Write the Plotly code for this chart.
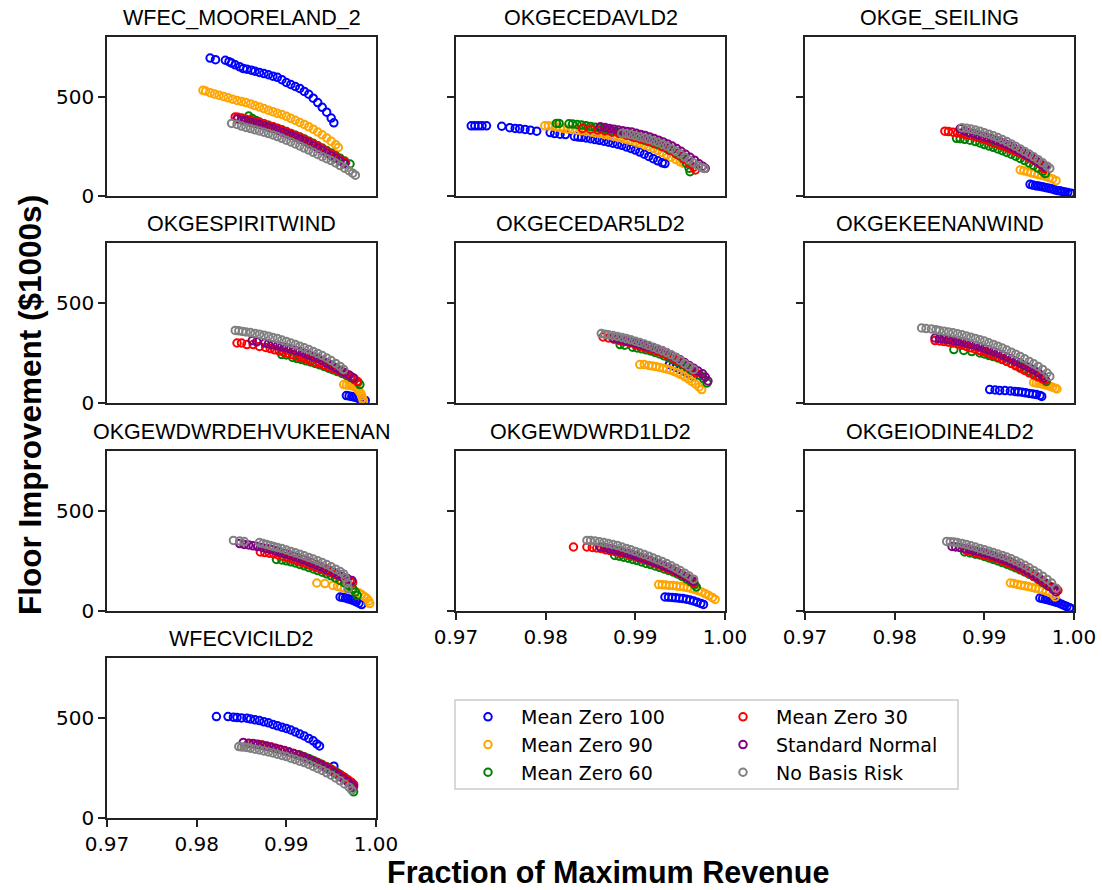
import plotly.graph_objects as go

# ---------------- axes / labels ----------------
X_RANGE = [0.97, 1.00]
Y_RANGE = [0, 800]
X_TICKS = [0.97, 0.98, 0.99, 1.00]
Y_TICKS = [0, 500]
X_LABEL = "Fraction of Maximum Revenue"
Y_LABEL = "Floor Improvement ($1000s)"

SERIES_NAMES = ["Mean Zero 100", "Mean Zero 90", "Mean Zero 60",
                "Mean Zero 30", "Standard Normal", "No Basis Risk"]
SERIES_COLORS = ["blue", "orange", "green", "red", "purple", "gray"]
LEGEND_COLUMN = ["legend", "legend", "legend", "legend2", "legend2", "legend2"]

STATIONS = ["WFEC_MOORELAND_2", "OKGECEDAVLD2", "OKGE_SEILING",
            "OKGESPIRITWIND", "OKGECEDAR5LD2", "OKGEKEENANWIND",
            "OKGEWDWRDEHVUKEENAN", "OKGEWDWRD1LD2", "OKGEIODINE4LD2",
            "WFECVICILD2"]

# ---------------- WFEC_MOORELAND_2 ----------------
MOOR_B100_X = [0.9815,0.9821,0.9832,0.9836,0.9839,0.9843,0.9848,0.9852,0.9856,0.9861,0.9865,0.9870,0.9875,0.9880,0.9885,0.9890,0.9895,0.9900,0.9905,0.9910,0.9915,0.9920,0.9925,0.9930,0.9935,0.9940,0.9945,0.9950,0.9953]
MOOR_B100_Y = [694,686,683,676,669,660,650,641,638,633,628,622,616,610,603,597,585,571,561,551,541,526,512,492,470,446,422,392,368]
MOOR_O90_X = [0.9807,0.9810,0.9815,0.9820,0.9825,0.9830,0.9835,0.9840,0.9845,0.9850,0.9855,0.9860,0.9865,0.9870,0.9875,0.9880,0.9885,0.9890,0.9895,0.9900,0.9905,0.9910,0.9915,0.9920,0.9925,0.9930,0.9935,0.9940,0.9945,0.9950,0.9955,0.9958]
MOOR_O90_Y = [532,528,520,513,507,501,494,487,481,476,470,463,455,448,440,432,424,416,410,401,391,381,370,360,348,336,322,308,292,276,258,244]
MOOR_G60_X = [0.9858,0.9862,0.9866,0.9870,0.9875,0.9880,0.9885,0.9890,0.9895,0.9900,0.9905,0.9910,0.9915,0.9920,0.9925,0.9930,0.9935,0.9940,0.9945,0.9950,0.9955,0.9960,0.9965,0.9971]
MOOR_G60_Y = [402,390,380,372,364,356,349,341,333,324,315,306,297,287,276,265,253,241,229,216,203,190,176,161]
MOOR_R30_X = [0.9843,0.9846,0.9850,0.9855,0.9860,0.9865,0.9870,0.9875,0.9880,0.9885,0.9890,0.9895,0.9900,0.9905,0.9910,0.9915,0.9920,0.9925,0.9930,0.9935,0.9940,0.9945,0.9950,0.9955,0.9960,0.9966]
MOOR_R30_Y = [398,396,392,386,380,374,368,362,355,348,340,331,322,314,305,295,285,274,262,250,238,225,212,198,185,168]
MOOR_SN_X = [0.9845,0.9850,0.9855,0.9860,0.9865,0.9870,0.9875,0.9880,0.9885,0.9890,0.9895,0.9900,0.9905,0.9910,0.9915,0.9920,0.9925,0.9930,0.9935,0.9940,0.9945,0.9950,0.9955,0.9960,0.9965]
MOOR_SN_Y = [388,383,378,372,366,360,353,346,339,331,322,313,305,296,286,276,265,253,241,229,216,203,190,176,162]
MOOR_NBR_X = [0.9839,0.9845,0.9850,0.9855,0.9860,0.9865,0.9870,0.9875,0.9880,0.9885,0.9890,0.9895,0.9900,0.9905,0.9910,0.9915,0.9920,0.9925,0.9930,0.9935,0.9940,0.9945,0.9950,0.9955,0.9960,0.9965,0.9970,0.9974,0.9977]
MOOR_NBR_Y = [365,360,352,345,339,333,327,321,314,307,299,290,281,272,262,252,241,231,220,209,198,188,178,166,153,140,127,115,105]

# ---------------- OKGECEDAVLD2 ----------------
CEDAV_B100_X = [0.9717,0.9721,0.9725,0.9729,0.9734,0.9751,0.9760,0.9766,0.9771,0.9777,0.9783,0.9790,0.9805,0.9810,0.9816,0.9822,0.9832,0.9836,0.9840,0.9845,0.9850,0.9855,0.9860,0.9865,0.9870,0.9875,0.9880,0.9885,0.9890,0.9895,0.9900,0.9905,0.9910,0.9915,0.9920,0.9925,0.9930,0.9933]
CEDAV_B100_Y = [353,353,353,353,353,351,344,340,338,335,331,326,319,314,311,309,300,297,295,292,288,284,280,276,271,266,261,255,247,239,231,221,210,199,188,177,167,163]
CEDAV_O90_X = [0.9799,0.9803,0.9808,0.9812,0.9816,0.9820,0.9825,0.9830,0.9835,0.9840,0.9845,0.9850,0.9855,0.9860,0.9865,0.9870,0.9875,0.9880,0.9885,0.9890,0.9895,0.9900,0.9905,0.9910,0.9915,0.9920,0.9925,0.9930,0.9935,0.9940,0.9945,0.9950,0.9954]
CEDAV_O90_Y = [353,353,352,348,344,340,337,334,331,328,325,322,318,314,310,306,301,296,291,285,279,272,265,257,249,240,230,219,207,195,184,172,164]
CEDAV_G60_X = [0.9812,0.9815,0.9826,0.9830,0.9835,0.9840,0.9845,0.9850,0.9855,0.9860,0.9865,0.9870,0.9875,0.9880,0.9885,0.9890,0.9895,0.9900,0.9905,0.9910,0.9915,0.9920,0.9925,0.9930,0.9935,0.9940,0.9945,0.9950,0.9954,0.9957,0.9960,0.9961]
CEDAV_G60_Y = [365,365,363,362,360,357,354,350,346,341,336,331,326,321,315,309,302,295,288,281,274,266,258,249,239,228,215,200,185,165,140,122]
CEDAV_R30_X = [0.9841,0.9850,0.9858,0.9866,0.9874,0.9882,0.9890,0.9898,0.9906,0.9914,0.9922,0.9930,0.9938,0.9946,0.9954,0.9960,0.9965,0.9967]
CEDAV_R30_Y = [340,336,332,327,321,315,306,296,287,276,263,248,230,210,187,165,145,131]
CEDAV_SN_X = [0.9861,0.9866,0.9871,0.9876,0.9881,0.9886,0.9891,0.9896,0.9901,0.9906,0.9911,0.9916,0.9921,0.9926,0.9931,0.9936,0.9941,0.9946,0.9951,0.9956,0.9961,0.9966,0.9971,0.9975,0.9978]
CEDAV_SN_Y = [348,345,340,336,332,328,325,322,316,310,304,297,289,281,272,262,251,239,225,210,195,180,162,150,139]
CEDAV_NBR_X = [0.9885,0.9890,0.9895,0.9900,0.9905,0.9910,0.9915,0.9920,0.9925,0.9930,0.9935,0.9940,0.9945,0.9950,0.9955,0.9960,0.9965,0.9970,0.9974,0.9977]
CEDAV_NBR_Y = [315,313,309,303,297,292,285,278,270,261,251,238,226,212,196,181,166,152,143,138]

# ---------------- OKGE_SEILING ----------------
SEIL_B100_X = [0.9951,0.9954,0.9957,0.9960,0.9963,0.9966,0.9969,0.9972,0.9975,0.9978,0.9981,0.9984,0.9987,0.9990,0.9993,0.9996,0.9998]
SEIL_B100_Y = [59,55,52,50,48,45,42,39,36,32,28,26,23,20,17,14,12]
SEIL_O90_X = [0.9940,0.9944,0.9948,0.9952,0.9956,0.9960,0.9964,0.9968,0.9972,0.9976,0.9980]
SEIL_O90_Y = [131,127,122,117,113,108,104,99,93,86,77]
SEIL_G60_X = [0.9869,0.9873,0.9878,0.9884,0.9890,0.9895,0.9900,0.9905,0.9910,0.9915,0.9920,0.9925,0.9930,0.9935,0.9940,0.9945,0.9950,0.9955,0.9960,0.9965,0.9968]
SEIL_G60_Y = [290,288,285,281,274,267,259,252,245,237,228,219,210,200,189,178,166,154,140,124,113]
SEIL_R30_X = [0.9856,0.9860,0.9865,0.9870,0.9875,0.9880,0.9885,0.9890,0.9895,0.9900,0.9905,0.9910,0.9915,0.9920,0.9925,0.9930,0.9935,0.9940,0.9945,0.9950,0.9955,0.9960,0.9965,0.9967]
SEIL_R30_Y = [326,324,321,317,313,309,305,299,292,285,277,269,261,253,244,235,225,215,204,192,180,167,150,138]
SEIL_SN_X = [0.9873,0.9878,0.9883,0.9888,0.9893,0.9898,0.9903,0.9908,0.9913,0.9918,0.9923,0.9928,0.9933,0.9938,0.9943,0.9948,0.9953,0.9958,0.9963,0.9968]
SEIL_SN_Y = [338,328,320,314,307,301,295,288,280,272,263,253,241,230,218,205,192,176,160,145]
SEIL_NBR_X = [0.9875,0.9880,0.9885,0.9890,0.9895,0.9900,0.9905,0.9910,0.9915,0.9920,0.9925,0.9930,0.9935,0.9940,0.9945,0.9950,0.9955,0.9960,0.9965,0.9970,0.9973]
SEIL_NBR_Y = [343,341,337,332,326,318,311,303,294,284,274,262,250,237,224,211,197,183,167,150,139]

# ---------------- OKGESPIRITWIND ----------------
SPIR_B100_X = [0.9967,0.9970,0.9973,0.9976,0.9979,0.9982,0.9985,0.9988]
SPIR_B100_Y = [37,35,32,29,25,20,16,13]
SPIR_O90_X = [0.9964,0.9967,0.9970,0.9973,0.9976,0.9979,0.9981,0.9983,0.9984,0.9985,0.9986]
SPIR_O90_Y = [92,90,88,86,82,72,60,48,35,22,10]
SPIR_G60_X = [0.9895,0.9900,0.9907,0.9912,0.9917,0.9922,0.9927,0.9932,0.9937,0.9942,0.9947,0.9952,0.9957,0.9962,0.9967,0.9972,0.9976,0.9980,0.9982]
SPIR_G60_Y = [242,240,228,222,217,211,205,198,191,183,174,166,157,148,138,127,117,104,92]
SPIR_R30_X = [0.9845,0.9850,0.9856,0.9863,0.9870,0.9877,0.9882,0.9887,0.9892,0.9897,0.9902,0.9907,0.9912,0.9917,0.9922,0.9927,0.9932,0.9937,0.9942,0.9947,0.9952,0.9957,0.9962,0.9967,0.9972,0.9976,0.9979]
SPIR_R30_Y = [300,300,292,292,283,278,272,266,260,254,248,241,234,227,220,212,204,197,189,181,173,164,155,145,133,120,108]
SPIR_SN_X = [0.9862,0.9867,0.9876,0.9880,0.9885,0.9890,0.9895,0.9900,0.9905,0.9910,0.9915,0.9920,0.9925,0.9930,0.9935,0.9940,0.9945,0.9950,0.9955,0.9960,0.9965,0.9970,0.9975]
SPIR_SN_Y = [312,306,300,296,291,286,281,276,270,263,257,249,241,232,224,213,201,190,177,164,152,140,125]
SPIR_NBR_X = [0.9843,0.9847,0.9851,0.9855,0.9860,0.9865,0.9870,0.9875,0.9880,0.9885,0.9890,0.9895,0.9900,0.9905,0.9910,0.9915,0.9920,0.9925,0.9930,0.9935,0.9940,0.9945,0.9950,0.9955,0.9960,0.9964]
SPIR_NBR_Y = [363,361,358,355,352,348,344,339,334,328,322,315,308,300,292,284,276,267,258,248,237,225,212,198,183,167]

# ---------------- OKGECEDAR5LD2 ----------------
CED5_B100_X = [0.9938,0.9942,0.9946,0.9950,0.9954,0.9958,0.9962,0.9965]
CED5_B100_Y = [192,186,178,168,160,150,140,133]
CED5_O90_X = [0.9905,0.9910,0.9915,0.9919,0.9923,0.9927,0.9931,0.9935,0.9939,0.9943,0.9947,0.9951,0.9955,0.9959,0.9963,0.9967,0.9971,0.9974]
CED5_O90_Y = [192,192,188,185,182,178,174,170,165,158,151,142,132,121,108,95,80,67]
CED5_G60_X = [0.9883,0.9888,0.9897,0.9902,0.9907,0.9912,0.9917,0.9922,0.9927,0.9932,0.9937,0.9942,0.9947,0.9952,0.9957,0.9962,0.9967,0.9972,0.9976,0.9980]
CED5_G60_Y = [292,289,279,275,271,266,260,253,245,236,226,216,205,193,180,166,152,138,122,100]
CED5_R30_X = [0.9864,0.9870,0.9876,0.9882,0.9888,0.9894,0.9900,0.9906,0.9912,0.9918,0.9924,0.9930,0.9936,0.9942,0.9948,0.9954,0.9960,0.9966,0.9968]
CED5_R30_Y = [330,325,319,313,307,300,292,284,276,267,258,248,237,224,210,195,178,158,150]
CED5_SN_X = [0.9875,0.9880,0.9885,0.9890,0.9895,0.9900,0.9905,0.9910,0.9915,0.9920,0.9925,0.9930,0.9935,0.9940,0.9945,0.9950,0.9955,0.9960,0.9965,0.9970,0.9975,0.9978,0.9981]
CED5_SN_Y = [325,320,315,310,305,300,294,288,282,276,268,260,250,239,228,216,202,188,174,160,146,130,110]
CED5_NBR_X = [0.9862,0.9866,0.9870,0.9875,0.9880,0.9885,0.9890,0.9895,0.9900,0.9905,0.9910,0.9915,0.9920,0.9925,0.9930,0.9935,0.9940,0.9945,0.9950,0.9955,0.9960,0.9965]
CED5_NBR_Y = [347,344,341,337,333,328,322,316,309,302,295,287,279,270,262,252,241,229,213,197,182,167]

# ---------------- OKGEKEENANWIND ----------------
KEEN_B100_X = [0.9906,0.9912,0.9917,0.9923,0.9929,0.9934,0.9938,0.9942,0.9946,0.9950,0.9954,0.9958,0.9962,0.9964]
KEEN_B100_Y = [67,65,63,62,60,58,56,54,51,48,45,42,38,33]
KEEN_O90_X = [0.9955,0.9958,0.9961,0.9964,0.9967,0.9970,0.9973,0.9976,0.9979,0.9981]
KEEN_O90_Y = [103,100,98,95,92,88,84,79,74,70]
KEEN_G60_X = [0.9866,0.9877,0.9886,0.9895,0.9900,0.9905,0.9910,0.9915,0.9920,0.9925,0.9930,0.9935,0.9940,0.9945,0.9950,0.9955,0.9960,0.9965,0.9969]
KEEN_G60_Y = [267,263,257,250,245,238,232,225,217,208,199,190,181,170,159,148,136,122,108]
KEEN_R30_X = [0.9845,0.9850,0.9855,0.9860,0.9865,0.9870,0.9875,0.9880,0.9885,0.9890,0.9895,0.9900,0.9905,0.9910,0.9915,0.9920,0.9925,0.9930,0.9935,0.9940,0.9945,0.9950,0.9955,0.9960,0.9965,0.9968]
KEEN_R30_Y = [312,310,307,304,300,295,289,283,276,269,262,256,247,238,229,220,209,198,186,174,163,151,140,131,121,116]
KEEN_SN_X = [0.9845,0.9850,0.9855,0.9860,0.9865,0.9870,0.9875,0.9880,0.9885,0.9890,0.9895,0.9900,0.9905,0.9910,0.9915,0.9920,0.9925,0.9930,0.9935,0.9940,0.9945,0.9950,0.9955,0.9960,0.9965,0.9967]
KEEN_SN_Y = [325,322,320,317,313,309,305,300,294,288,281,273,266,258,249,240,230,220,209,199,188,178,166,152,135,125]
KEEN_NBR_X = [0.9830,0.9835,0.9841,0.9846,0.9850,0.9855,0.9860,0.9865,0.9870,0.9875,0.9880,0.9885,0.9890,0.9895,0.9900,0.9905,0.9910,0.9915,0.9920,0.9925,0.9930,0.9935,0.9940,0.9945,0.9950,0.9955,0.9960,0.9965,0.9970,0.9973]
KEEN_NBR_Y = [375,372,370,366,362,359,355,351,346,341,335,329,323,316,310,301,293,284,275,265,254,244,233,221,208,196,183,168,150,133]

# ---------------- OKGEWDWRDEHVUKEENAN ----------------
DEHV_B100_X = [0.9960,0.9963,0.9966,0.9969,0.9972,0.9975,0.9978,0.9981,0.9984]
DEHV_B100_Y = [70,68,65,61,57,52,46,39,32]
DEHV_O90_X = [0.9934,0.9943,0.9952,0.9957,0.9961,0.9965,0.9969,0.9973,0.9977,0.9981,0.9984,0.9987,0.9990,0.9992,0.9993]
DEHV_O90_Y = [140,137,128,123,118,114,110,105,98,90,82,72,62,50,37]
DEHV_G60_X = [0.9889,0.9895,0.9900,0.9905,0.9910,0.9915,0.9920,0.9925,0.9930,0.9935,0.9940,0.9945,0.9950,0.9955,0.9960,0.9965,0.9970,0.9974,0.9977,0.9979]
DEHV_G60_Y = [258,255,251,246,240,233,226,218,210,202,194,186,176,165,153,140,126,112,95,78]
DEHV_R30_X = [0.9871,0.9876,0.9881,0.9886,0.9891,0.9896,0.9901,0.9906,0.9911,0.9916,0.9921,0.9926,0.9931,0.9936,0.9941,0.9946,0.9951,0.9956,0.9961,0.9966,0.9971,0.9974]
DEHV_R30_Y = [295,292,289,285,280,274,268,261,254,246,239,231,223,215,207,199,190,181,172,162,153,143]
DEHV_SN_X = [0.9848,0.9853,0.9858,0.9863,0.9868,0.9873,0.9878,0.9883,0.9888,0.9893,0.9898,0.9903,0.9908,0.9913,0.9918,0.9923,0.9928,0.9933,0.9938,0.9943,0.9948,0.9953,0.9958,0.9963,0.9968,0.9973]
DEHV_SN_Y = [337,333,330,326,322,318,313,307,301,295,288,281,274,266,258,250,241,232,223,213,203,193,182,171,162,153]
DEHV_NBR_X = [0.9841,0.9848,0.9853,0.9870,0.9874,0.9878,0.9882,0.9886,0.9890,0.9895,0.9900,0.9905,0.9910,0.9915,0.9920,0.9925,0.9930,0.9935,0.9940,0.9945,0.9950,0.9955,0.9960,0.9964,0.9966,0.9968,0.9969]
DEHV_NBR_Y = [353,350,347,342,337,332,327,322,318,312,305,298,291,284,276,268,260,251,242,232,221,209,197,185,165,140,112]

# ---------------- OKGEWDWRD1LD2 ----------------
WD1_B100_X = [0.9933,0.9937,0.9941,0.9945,0.9949,0.9953,0.9957,0.9961,0.9965,0.9969,0.9973,0.9976]
WD1_B100_Y = [70,69,68,66,64,62,59,55,50,44,38,33]
WD1_O90_X = [0.9926,0.9930,0.9934,0.9938,0.9942,0.9946,0.9950,0.9954,0.9958,0.9962,0.9966,0.9970,0.9974,0.9978,0.9982,0.9986,0.9989]
WD1_O90_Y = [132,131,130,128,127,125,123,120,117,113,108,102,95,86,77,67,58]
WD1_G60_X = [0.9877,0.9882,0.9887,0.9892,0.9897,0.9902,0.9907,0.9912,0.9917,0.9922,0.9927,0.9932,0.9937,0.9942,0.9947,0.9952,0.9957,0.9962,0.9966,0.9968]
WD1_G60_Y = [278,274,269,264,258,252,245,238,232,225,218,210,203,195,185,173,160,146,132,120]
WD1_R30_X = [0.9831,0.9846,0.9852,0.9857,0.9862,0.9867,0.9872,0.9877,0.9882,0.9887,0.9892,0.9897,0.9902,0.9907,0.9912,0.9917,0.9922,0.9927,0.9932,0.9937,0.9942,0.9947,0.9952,0.9957,0.9962,0.9965]
WD1_R30_Y = [320,320,318,315,312,306,302,298,293,288,283,277,270,263,256,248,240,230,221,212,203,193,182,170,155,140]
WD1_SN_X = [0.9861,0.9866,0.9871,0.9876,0.9881,0.9886,0.9891,0.9896,0.9901,0.9906,0.9911,0.9916,0.9921,0.9926,0.9931,0.9936,0.9941,0.9946,0.9951,0.9956,0.9961,0.9965]
WD1_SN_Y = [320,316,311,306,301,295,289,283,276,268,260,253,245,237,228,219,209,197,185,172,159,148]
WD1_NBR_X = [0.9846,0.9850,0.9855,0.9860,0.9865,0.9870,0.9875,0.9880,0.9885,0.9890,0.9895,0.9900,0.9905,0.9910,0.9915,0.9920,0.9925,0.9930,0.9935,0.9940,0.9945,0.9950,0.9955,0.9960,0.9965]
WD1_NBR_Y = [353,352,350,346,342,337,332,327,320,313,306,298,290,282,274,265,256,247,237,226,214,202,189,175,159]

# ---------------- OKGEIODINE4LD2 ----------------
IOD_B100_X = [0.9962,0.9965,0.9968,0.9971,0.9974,0.9977,0.9980,0.9983,0.9986,0.9989,0.9992,0.9995,0.9997]
IOD_B100_Y = [65,62,59,56,52,48,44,40,34,28,22,16,12]
IOD_O90_X = [0.9929,0.9933,0.9937,0.9941,0.9945,0.9949,0.9953,0.9957,0.9961,0.9965,0.9969,0.9973,0.9977,0.9979]
IOD_O90_Y = [140,137,133,129,126,122,118,114,110,105,99,92,82,70]
IOD_G60_X = [0.9878,0.9884,0.9890,0.9895,0.9900,0.9905,0.9910,0.9915,0.9920,0.9925,0.9930,0.9935,0.9940,0.9945,0.9950,0.9955,0.9960,0.9965,0.9970]
IOD_G60_Y = [295,290,284,280,273,265,258,250,242,234,225,216,206,195,184,172,158,143,128]
IOD_R30_X = [0.9880,0.9885,0.9890,0.9895,0.9900,0.9905,0.9910,0.9915,0.9920,0.9925,0.9930,0.9935,0.9940,0.9945,0.9950,0.9955,0.9960,0.9965,0.9970,0.9975,0.9980,0.9982]
IOD_R30_Y = [303,298,292,286,280,274,268,260,252,243,234,224,213,201,188,174,160,146,132,120,110,103]
IOD_SN_X = [0.9864,0.9868,0.9873,0.9878,0.9883,0.9888,0.9893,0.9898,0.9903,0.9908,0.9913,0.9918,0.9923,0.9928,0.9933,0.9938,0.9943,0.9948,0.9953,0.9958,0.9963,0.9968,0.9973,0.9977,0.9980]
IOD_SN_Y = [323,320,317,313,309,303,298,293,287,280,272,264,256,247,237,226,214,201,187,172,157,140,122,108,95]
IOD_NBR_X = [0.9858,0.9862,0.9866,0.9870,0.9875,0.9880,0.9885,0.9890,0.9895,0.9900,0.9905,0.9910,0.9915,0.9920,0.9925,0.9930,0.9935,0.9940,0.9945,0.9950,0.9955,0.9960,0.9965,0.9970,0.9975,0.9980]
IOD_NBR_Y = [348,346,345,342,338,332,326,320,313,306,299,292,285,278,270,261,251,240,229,216,203,189,174,158,140,114]

# ---------------- WFECVICILD2 ----------------
VICI_B100_X = [0.9822,0.9835,0.9841,0.9845,0.9850,0.9856,0.9860,0.9865,0.9870,0.9875,0.9880,0.9885,0.9890,0.9895,0.9900,0.9905,0.9910,0.9915,0.9920,0.9925,0.9930,0.9934,0.9937,0.9953]
VICI_B100_Y = [507,507,504,502,500,499,495,491,487,481,476,468,461,454,448,440,430,420,410,398,386,370,360,259]
VICI_O90_X = [0.9860,0.9866,0.9872,0.9878,0.9884,0.9890,0.9896,0.9902,0.9908,0.9914,0.9920,0.9926,0.9932,0.9938,0.9944,0.9950,0.9956,0.9962]
VICI_O90_Y = [370,366,362,357,351,344,337,330,322,313,304,294,283,271,258,244,228,210]
VICI_G60_X = [0.9915,0.9920,0.9925,0.9930,0.9935,0.9940,0.9945,0.9950,0.9955,0.9960,0.9965,0.9970,0.9972,0.9974,0.9975]
VICI_G60_Y = [315,306,297,288,278,267,256,244,232,218,203,186,172,150,131]
VICI_R30_X = [0.9863,0.9868,0.9873,0.9878,0.9883,0.9888,0.9893,0.9898,0.9903,0.9908,0.9913,0.9918,0.9923,0.9928,0.9933,0.9938,0.9943,0.9948,0.9953,0.9958,0.9963,0.9968,0.9973,0.9975]
VICI_R30_Y = [373,369,365,360,355,349,343,337,330,323,315,307,298,289,279,269,258,247,235,222,208,193,177,168]
VICI_SN_X = [0.9852,0.9858,0.9863,0.9868,0.9873,0.9878,0.9883,0.9888,0.9893,0.9898,0.9903,0.9908,0.9913,0.9918,0.9923,0.9928,0.9933,0.9938,0.9943,0.9948,0.9953,0.9958,0.9963,0.9968,0.9973,0.9975]
VICI_SN_Y = [378,374,371,368,364,359,354,348,342,336,330,322,315,306,297,287,277,266,254,241,228,214,199,183,166,158]
VICI_NBR_X = [0.9847,0.9850,0.9853,0.9856,0.9860,0.9865,0.9870,0.9875,0.9880,0.9885,0.9890,0.9895,0.9900,0.9905,0.9910,0.9915,0.9920,0.9925,0.9930,0.9935,0.9940,0.9945,0.9950,0.9955,0.9960,0.9965,0.9970,0.9973]
VICI_NBR_Y = [357,355,355,353,349,344,340,335,330,325,319,313,307,299,292,284,277,268,258,248,238,226,214,200,186,170,154,139]

DATA = {
    "WFEC_MOORELAND_2": [(MOOR_B100_X, MOOR_B100_Y), (MOOR_O90_X, MOOR_O90_Y), (MOOR_G60_X, MOOR_G60_Y),
                         (MOOR_R30_X, MOOR_R30_Y), (MOOR_SN_X, MOOR_SN_Y), (MOOR_NBR_X, MOOR_NBR_Y)],
    "OKGECEDAVLD2": [(CEDAV_B100_X, CEDAV_B100_Y), (CEDAV_O90_X, CEDAV_O90_Y), (CEDAV_G60_X, CEDAV_G60_Y),
                     (CEDAV_R30_X, CEDAV_R30_Y), (CEDAV_SN_X, CEDAV_SN_Y), (CEDAV_NBR_X, CEDAV_NBR_Y)],
    "OKGE_SEILING": [(SEIL_B100_X, SEIL_B100_Y), (SEIL_O90_X, SEIL_O90_Y), (SEIL_G60_X, SEIL_G60_Y),
                     (SEIL_R30_X, SEIL_R30_Y), (SEIL_SN_X, SEIL_SN_Y), (SEIL_NBR_X, SEIL_NBR_Y)],
    "OKGESPIRITWIND": [(SPIR_B100_X, SPIR_B100_Y), (SPIR_O90_X, SPIR_O90_Y), (SPIR_G60_X, SPIR_G60_Y),
                       (SPIR_R30_X, SPIR_R30_Y), (SPIR_SN_X, SPIR_SN_Y), (SPIR_NBR_X, SPIR_NBR_Y)],
    "OKGECEDAR5LD2": [(CED5_B100_X, CED5_B100_Y), (CED5_O90_X, CED5_O90_Y), (CED5_G60_X, CED5_G60_Y),
                      (CED5_R30_X, CED5_R30_Y), (CED5_SN_X, CED5_SN_Y), (CED5_NBR_X, CED5_NBR_Y)],
    "OKGEKEENANWIND": [(KEEN_B100_X, KEEN_B100_Y), (KEEN_O90_X, KEEN_O90_Y), (KEEN_G60_X, KEEN_G60_Y),
                       (KEEN_R30_X, KEEN_R30_Y), (KEEN_SN_X, KEEN_SN_Y), (KEEN_NBR_X, KEEN_NBR_Y)],
    "OKGEWDWRDEHVUKEENAN": [(DEHV_B100_X, DEHV_B100_Y), (DEHV_O90_X, DEHV_O90_Y), (DEHV_G60_X, DEHV_G60_Y),
                            (DEHV_R30_X, DEHV_R30_Y), (DEHV_SN_X, DEHV_SN_Y), (DEHV_NBR_X, DEHV_NBR_Y)],
    "OKGEWDWRD1LD2": [(WD1_B100_X, WD1_B100_Y), (WD1_O90_X, WD1_O90_Y), (WD1_G60_X, WD1_G60_Y),
                      (WD1_R30_X, WD1_R30_Y), (WD1_SN_X, WD1_SN_Y), (WD1_NBR_X, WD1_NBR_Y)],
    "OKGEIODINE4LD2": [(IOD_B100_X, IOD_B100_Y), (IOD_O90_X, IOD_O90_Y), (IOD_G60_X, IOD_G60_Y),
                       (IOD_R30_X, IOD_R30_Y), (IOD_SN_X, IOD_SN_Y), (IOD_NBR_X, IOD_NBR_Y)],
    "WFECVICILD2": [(VICI_B100_X, VICI_B100_Y), (VICI_O90_X, VICI_O90_Y), (VICI_G60_X, VICI_G60_Y),
                    (VICI_R30_X, VICI_R30_Y), (VICI_SN_X, VICI_SN_Y), (VICI_NBR_X, VICI_NBR_Y)],
}

# ---------------- layout geometry (pixels) ----------------
W, H = 1102, 890
COLS_PX = [(107, 376), (456, 725), (805, 1074)]
ROWS_PX = [(37, 196), (243, 403), (451, 611), (658, 818)]
XLABELED = {7, 8, 9}   # subplot indices with x tick labels
LEG_BOX = (455, 700, 958, 789)   # left, top, right, bottom
LEG_COL2 = 710
TITLE_FONT = dict(family="Liberation Sans, Arial, sans-serif", size=21.5, color="black")
TICK_FONT = dict(family="DejaVu Sans, sans-serif", size=20, color="black")
XLABEL_FONT = dict(family="Liberation Sans, Arial, sans-serif", size=30.5, color="black")
YLABEL_FONT = dict(family="Liberation Sans, Arial, sans-serif", size=31.5, color="black")
LEG_FONT = dict(family="DejaVu Sans, sans-serif", size=19, color="black")

fig = go.Figure()
layout = dict(
    width=W, height=H, autosize=False,
    margin=dict(l=0, r=0, t=0, b=0, autoexpand=False),
    paper_bgcolor="white", plot_bgcolor="white",
    showlegend=True,
)
annotations = []

for i, st in enumerate(STATIONS):
    r, c = divmod(i, 3)
    x0, x1 = COLS_PX[c]
    t0, b0 = ROWS_PX[r]
    n = i + 1
    xa = "xaxis" if n == 1 else f"xaxis{n}"
    ya = "yaxis" if n == 1 else f"yaxis{n}"
    xref = "x" if n == 1 else f"x{n}"
    yref = "y" if n == 1 else f"y{n}"
    xlab = i in XLABELED
    layout[xa] = dict(
        domain=[x0 / W, x1 / W], anchor=yref, range=X_RANGE,
        showline=True, mirror=True, linecolor="#222", linewidth=1.5,
        showgrid=False, zeroline=False, automargin=False,
        tickmode="array", tickvals=X_TICKS if xlab else [],
        tickformat=".2f", ticks="outside" if xlab else "",
        ticklen=7, tickwidth=1.5, tickcolor="#222",
        showticklabels=xlab, tickfont=TICK_FONT,
    )
    layout[ya] = dict(
        domain=[1 - b0 / H, 1 - t0 / H], anchor=xref, range=Y_RANGE,
        showline=True, mirror=True, linecolor="#222", linewidth=1.5,
        showgrid=False, zeroline=False, automargin=False,
        tickmode="array", tickvals=Y_TICKS, ticks="outside",
        ticklen=7, tickwidth=1.5, tickcolor="#222",
        showticklabels=(c == 0), tickfont=TICK_FONT,
    )
    annotations.append(dict(
        text=st, xref="paper", yref="paper",
        x=(x0 + x1) / 2 / W, y=1 - (t0 - 19) / H,
        xanchor="center", yanchor="middle", showarrow=False, font=TITLE_FONT,
    ))
    for k, (xs, ys) in enumerate(DATA[st]):
        fig.add_trace(go.Scatter(
            x=xs, y=ys, mode="markers", xaxis=xref, yaxis=yref,
            name=SERIES_NAMES[k], legend=LEGEND_COLUMN[k],
            showlegend=(i == 0),
            marker=dict(symbol="circle-open", size=7.5, color=SERIES_COLORS[k],
                        line=dict(width=2, color=SERIES_COLORS[k])),
            hoverinfo="skip",
        ))

annotations.append(dict(
    text=f"<b>{X_LABEL}</b>", xref="paper", yref="paper",
    x=608 / W, y=1 - 872 / H, xanchor="center", yanchor="middle", showarrow=False,
    font=XLABEL_FONT,
))
annotations.append(dict(
    text=f"<b>{Y_LABEL}</b>", xref="paper", yref="paper",
    x=30 / W, y=1 - 405 / H, xanchor="center", yanchor="middle", showarrow=False,
    textangle=-90, font=YLABEL_FONT,
))
layout["annotations"] = annotations

lx0, ly0, lx1, ly1 = LEG_BOX
layout["shapes"] = [dict(
    type="rect", xref="paper", yref="paper",
    x0=lx0 / W, x1=lx1 / W, y0=1 - ly1 / H, y1=1 - ly0 / H,
    line=dict(color="#cccccc", width=1.5), fillcolor="white", layer="above",
)]
common_leg = dict(
    orientation="v", yanchor="top", xanchor="left",
    itemwidth=56, borderwidth=0, bgcolor="rgba(0,0,0,0)",
    font=LEG_FONT, tracegroupgap=0,
)
layout["legend"] = dict(x=lx0 / W, y=1 - (ly0 - 2) / H, **common_leg)
layout["legend2"] = dict(x=LEG_COL2 / W, y=1 - (ly0 - 2) / H, **common_leg)

fig.update_layout(**layout)
fig.write_html("out.html")
